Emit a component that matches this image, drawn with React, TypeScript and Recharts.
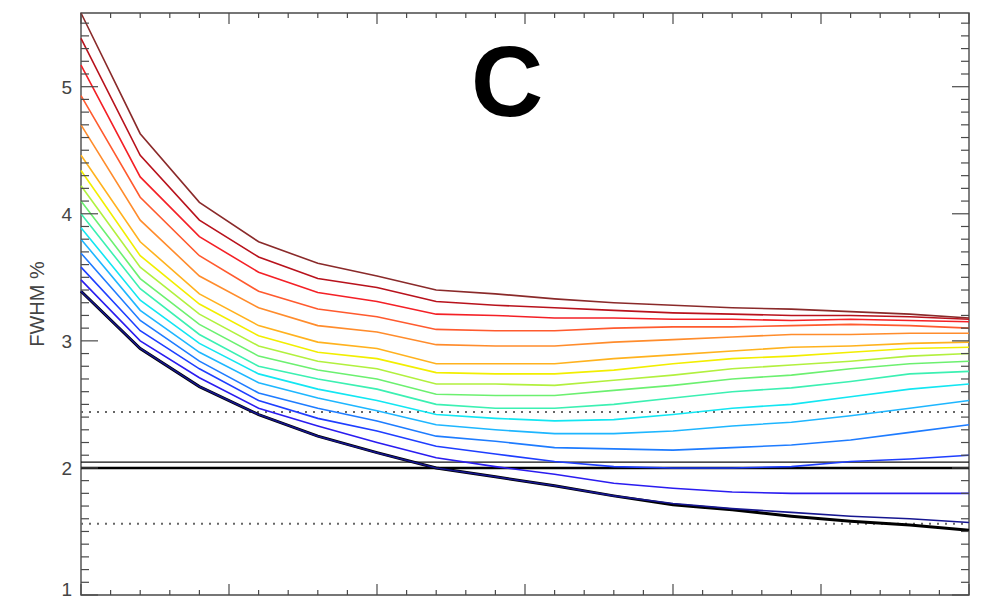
import React from 'react';
import { LineChart, Line, XAxis, YAxis, ReferenceLine, ReferenceArea } from 'recharts';

// sample positions along the x axis (no labels are drawn on it)
const xs = [0, 0.4, 0.8, 1.2, 1.6, 2.0, 2.4, 2.8, 3.2, 3.6, 4.0, 4.4, 4.8, 5.2, 5.6, 6.0];

// FWHM % curves, top (dark red) to bottom (navy)
const c01 = [5.58, 4.63, 4.09, 3.78, 3.61, 3.51, 3.40, 3.37, 3.33, 3.30, 3.28, 3.26, 3.25, 3.23, 3.21, 3.18];
const c02 = [5.38, 4.46, 3.95, 3.66, 3.49, 3.42, 3.31, 3.28, 3.26, 3.24, 3.22, 3.21, 3.20, 3.20, 3.19, 3.17];
const c03 = [5.17, 4.29, 3.82, 3.54, 3.38, 3.31, 3.21, 3.20, 3.18, 3.18, 3.17, 3.17, 3.16, 3.17, 3.16, 3.15];
const c04 = [4.93, 4.13, 3.67, 3.39, 3.25, 3.19, 3.09, 3.08, 3.08, 3.10, 3.11, 3.11, 3.12, 3.13, 3.12, 3.10];
const c05 = [4.70, 3.95, 3.51, 3.26, 3.12, 3.07, 2.97, 2.96, 2.96, 2.99, 3.01, 3.03, 3.05, 3.05, 3.06, 3.06];
const c06 = [4.46, 3.78, 3.37, 3.12, 2.99, 2.94, 2.82, 2.82, 2.82, 2.86, 2.89, 2.92, 2.95, 2.96, 2.98, 2.99];
const c07 = [4.34, 3.67, 3.29, 3.04, 2.91, 2.86, 2.75, 2.74, 2.74, 2.77, 2.82, 2.86, 2.88, 2.91, 2.94, 2.95];
const c08 = [4.22, 3.58, 3.21, 2.96, 2.84, 2.78, 2.66, 2.66, 2.65, 2.69, 2.73, 2.78, 2.81, 2.84, 2.88, 2.90];
const c09 = [4.10, 3.49, 3.13, 2.88, 2.77, 2.70, 2.58, 2.57, 2.57, 2.61, 2.65, 2.70, 2.73, 2.78, 2.82, 2.84];
const c10 = [4.00, 3.41, 3.05, 2.80, 2.70, 2.62, 2.50, 2.47, 2.47, 2.50, 2.55, 2.60, 2.63, 2.68, 2.74, 2.76];
const c11 = [3.89, 3.32, 2.98, 2.74, 2.62, 2.53, 2.42, 2.39, 2.37, 2.38, 2.42, 2.47, 2.50, 2.56, 2.62, 2.66];
const c12 = [3.80, 3.24, 2.91, 2.67, 2.55, 2.45, 2.34, 2.30, 2.27, 2.27, 2.29, 2.33, 2.36, 2.41, 2.47, 2.53];
const c13 = [3.69, 3.16, 2.84, 2.59, 2.47, 2.37, 2.25, 2.21, 2.16, 2.15, 2.14, 2.16, 2.18, 2.22, 2.28, 2.34];
const c14 = [3.58, 3.08, 2.78, 2.53, 2.39, 2.29, 2.17, 2.11, 2.05, 2.01, 2.00, 2.00, 2.01, 2.05, 2.07, 2.10];
const c15 = [3.48, 3.00, 2.71, 2.47, 2.33, 2.20, 2.08, 2.01, 1.95, 1.88, 1.84, 1.81, 1.80, 1.80, 1.80, 1.80];
const c16 = [3.39, 2.94, 2.64, 2.42, 2.25, 2.12, 2.00, 1.93, 1.86, 1.78, 1.72, 1.68, 1.65, 1.62, 1.60, 1.57];
// black reference curve underneath the navy one
const ref = [3.39, 2.94, 2.64, 2.42, 2.25, 2.12, 2.00, 1.93, 1.86, 1.78, 1.71, 1.67, 1.62, 1.58, 1.55, 1.51];

const curves = [c01, c02, c03, c04, c05, c06, c07, c08, c09, c10, c11, c12, c13, c14, c15, c16];
const colors = [
  '#8a2a2a', '#b8121c', '#f42026', '#ff5a2e', '#ff8c2c', '#ffb21e', '#f2ee00', '#b2f03e',
  '#6cf070', '#3cf0b2', '#12e6f2', '#1eb6ff', '#1e7cff', '#1e3eff', '#2a1cf0', '#161690',
];

// horizontal levels
const target = 2.0;
const targetHi = 2.045;
const bandHi = 2.44;
const bandLo = 1.56;

const yTickLabels = [1, 2, 3, 4, 5];
const Y_MIN = 1;
const Y_MAX = 5.58;
const X_MAX = 6;

const W = 994;
const H = 599;
const LEFT = 81;
const RIGHT = 25;
const TOP = 13;
const BOTTOM = 4;
const PLOT_W = W - LEFT - RIGHT;
const PLOT_H = H - TOP - BOTTOM;
const AXIS = '#4a4a4a';
const FONT = 'Liberation Sans, Arial, Helvetica, sans-serif';

const yTicks: number[] = [];
for (let k = 10; k <= 55; k++) yTicks.push(k / 10);
const xTicks: number[] = [];
for (let k = 0; k <= 30; k++) xTicks.push(k / 5);

const rows = xs.map((x, i) => {
  const row: Record<string, number> = { x, ref: ref[i] };
  curves.forEach((c, j) => {
    row['c' + j] = c[i];
  });
  return row;
});

const isMajor = (v: number) => Math.abs(v - Math.round(v)) < 1e-6;

function YTick(props: any) {
  const { x, y, payload } = props;
  const v = payload.value;
  const major = isMajor(v);
  const len = major ? 17 : 8;
  // keep the lowest label inside the page
  const ly = Math.min(y, H - 10);
  return (
    <g>
      <line x1={x} x2={x + len} y1={y} y2={y} stroke={AXIS} strokeWidth={1.2} />
      <line x1={x + PLOT_W} x2={x + PLOT_W - len} y1={y} y2={y} stroke={AXIS} strokeWidth={1.2} />
      {major && yTickLabels.includes(Math.round(v)) && (
        <text x={x - 9} y={ly} dy="0.36em" textAnchor="end" fontSize={19} fill="#444" fontFamily={FONT}>
          {Math.round(v)}
        </text>
      )}
    </g>
  );
}

function XTick(props: any) {
  const { x, y } = props;
  const v = props.payload.value;
  const len = isMajor(v) ? 11 : 5;
  return (
    <g>
      <line x1={x} x2={x} y1={y} y2={y - len} stroke={AXIS} strokeWidth={1.2} />
      <line x1={x} x2={x} y1={y - PLOT_H} y2={y - PLOT_H + len} stroke={AXIS} strokeWidth={1.2} />
    </g>
  );
}

export default function App() {
  return (
    <div style={{ position: 'absolute', left: 0, top: 0, width: W, height: H, background: '#fff' }}>
      <LineChart width={W} height={H} data={rows} margin={{ top: TOP, right: RIGHT, bottom: 0, left: 0 }}>
        <XAxis
          dataKey="x"
          type="number"
          domain={[0, X_MAX]}
          ticks={xTicks}
          interval={0}
          height={BOTTOM}
          tickSize={0}
          tickMargin={0}
          axisLine={false}
          tickLine={false}
          tick={<XTick />}
        />
        <YAxis
          type="number"
          domain={[Y_MIN, Y_MAX]}
          ticks={yTicks}
          interval={0}
          width={LEFT}
          tickSize={0}
          tickMargin={0}
          axisLine={false}
          tickLine={false}
          tick={<YTick />}
          label={{
            value: 'FWHM %',
            angle: -90,
            position: 'center',
            dx: -4,
            style: { fontSize: 20, fill: '#444', fontFamily: FONT },
          }}
        />
        <ReferenceArea x1={0} x2={X_MAX} y1={Y_MIN} y2={Y_MAX} fill="none" stroke={AXIS} strokeWidth={1.4} />
        <ReferenceLine y={bandHi} stroke="#666" strokeWidth={2} strokeDasharray="2 6" />
        <ReferenceLine y={bandLo} stroke="#666" strokeWidth={2} strokeDasharray="2 6" />
        <ReferenceLine y={targetHi} stroke="#111" strokeWidth={1.3} />
        <ReferenceLine y={target} stroke="#000" strokeWidth={2.6} />
        <Line
          dataKey="ref"
          type="linear"
          stroke="#000"
          strokeWidth={3}
          dot={false}
          isAnimationActive={false}
        />
        {curves
          .map((_, j) => j)
          .reverse()
          .map((j) => (
            <Line
              key={j}
              dataKey={'c' + j}
              type="linear"
              stroke={colors[j]}
              strokeWidth={1.6}
              dot={false}
              isAnimationActive={false}
            />
          ))}
        <text x={507} y={116} textAnchor="middle" fontSize={100} fontWeight="bold" fill="#000" fontFamily={FONT}>
          C
        </text>
      </LineChart>
    </div>
  );
}
